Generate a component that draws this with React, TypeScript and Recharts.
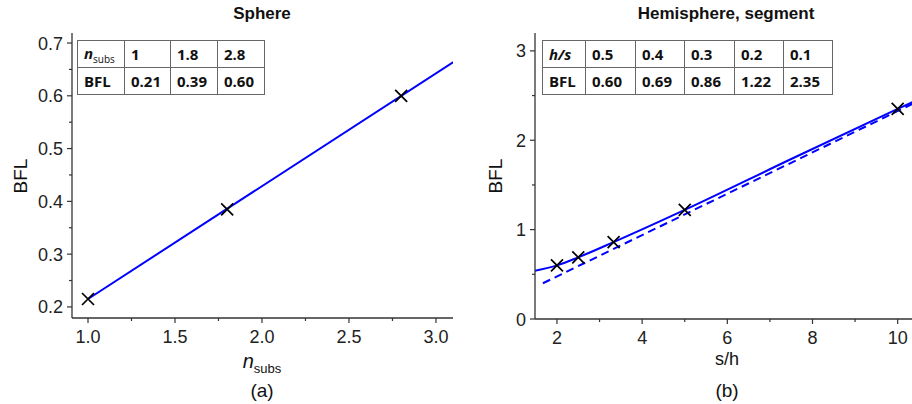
import { ComposedChart, Line, Scatter, XAxis, YAxis } from 'recharts';

// (a) sphere
const nSubs = [1, 1.8, 2.8];
const bflSphere = [0.215, 0.385, 0.6];
const sphereFitX = [1.0, 3.1];
const sphereFitY = [0.215, 0.664];
const sphereTableN = ['1', '1.8', '2.8'];
const sphereTableBfl = ['0.21', '0.39', '0.60'];

// (b) hemisphere, segment
const sOverH = [2, 2.5, 3.33, 5, 10];
const bflHemi = [0.6, 0.69, 0.86, 1.22, 2.35];
const solidX = [1.48, 2, 2.5, 3.33, 5, 7.5, 10, 10.36];
const solidY = [0.54, 0.6, 0.69, 0.86, 1.22, 1.79, 2.35, 2.43];
const dashX = [1.67, 10.36];
const dashY = [0.4, 2.41];
const hemiTableH = ['0.5', '0.4', '0.3', '0.2', '0.1'];
const hemiTableBfl = ['0.60', '0.69', '0.86', '1.22', '2.35'];

// ticks
const sphereXTicks = [1.0, 1.25, 1.5, 1.75, 2.0, 2.25, 2.5, 2.75, 3.0];
const sphereXMajor = [1.0, 1.5, 2.0, 2.5, 3.0];
const sphereYTicks = [0.2, 0.25, 0.3, 0.35, 0.4, 0.45, 0.5, 0.55, 0.6, 0.65, 0.7];
const sphereYMajor = [0.2, 0.3, 0.4, 0.5, 0.6, 0.7];
const hemiXTicks = [2, 3, 4, 5, 6, 7, 8, 9, 10];
const hemiXMajor = [2, 4, 6, 8, 10];
const hemiYTicks = [0, 0.5, 1, 1.5, 2, 2.5, 3];
const hemiYMajor = [0, 1, 2, 3];

const zip = (xs: number[], ys: number[]) => xs.map((x, i) => ({ x, y: ys[i] }));

const FONT = '"Liberation Sans", Arial, sans-serif';
const AXIS = '#333';
const BLUE = '#0000FF';

const isMajor = (majors: number[], v: number) => majors.some((m) => Math.abs(m - v) < 1e-6);

function BottomTick(props: any) {
  const { x, y, payload, majors, digits } = props;
  const major = isMajor(majors, payload.value);
  return (
    <g>
      <line x1={x} x2={x} y1={y} y2={y + (major ? 5 : 3)} stroke={AXIS} strokeWidth={1.2} />
      {major && (
        <text x={x} y={y + 25} textAnchor="middle" fontSize={18} fontFamily={FONT} fill="#222">
          {payload.value.toFixed(digits)}
        </text>
      )}
    </g>
  );
}

function LeftTick(props: any) {
  const { x, y, payload, majors, digits } = props;
  const major = isMajor(majors, payload.value);
  return (
    <g>
      <line x1={x} x2={x - (major ? 5 : 3)} y1={y} y2={y} stroke={AXIS} strokeWidth={1.2} />
      {major && (
        <text x={x - 9} y={y + 6.5} textAnchor="end" fontSize={18} fontFamily={FONT} fill="#222">
          {payload.value.toFixed(digits)}
        </text>
      )}
    </g>
  );
}

function Cross(props: any) {
  const { cx, cy } = props;
  const r = 6;
  return (
    <path
      d={`M${cx - r},${cy - r}L${cx + r},${cy + r}M${cx - r},${cy + r}L${cx + r},${cy - r}`}
      stroke="#000"
      strokeWidth={1.7}
      fill="none"
    />
  );
}

const cell: React.CSSProperties = {
  border: '1px solid #666',
  padding: '0 0 0 6px',
  height: 26,
  textAlign: 'left',
  fontFamily: '"Open Sans", sans-serif',
  fontWeight: 700,
  fontSize: 15,
  color: '#111',
};

function DataTable({ head, row1, row2, widths, left }: any) {
  return (
    <table
      style={{
        position: 'absolute',
        left,
        top: 40,
        borderCollapse: 'collapse',
        background: '#fff',
        tableLayout: 'fixed',
      }}
    >
      <tbody>
        <tr>
          <td style={{ ...cell, width: widths[0] - 7 }}>{head}</td>
          {row1.map((v: string, i: number) => (
            <td key={i} style={{ ...cell, width: widths[i + 1] - 7 }}>
              {v}
            </td>
          ))}
        </tr>
        <tr>
          <td style={cell}>BFL</td>
          {row2.map((v: string, i: number) => (
            <td key={i} style={cell}>
              {v}
            </td>
          ))}
        </tr>
      </tbody>
    </table>
  );
}

const label: React.CSSProperties = {
  position: 'absolute',
  fontFamily: FONT,
  color: '#111',
  whiteSpace: 'nowrap',
  lineHeight: 1,
  transform: 'translate(-50%, -50%)',
};

export default function App() {
  return (
    <div
      style={{
        position: 'absolute',
        left: 0,
        top: 0,
        width: 912,
        height: 404,
        overflow: 'hidden',
        background: '#fff',
      }}
    >
      <div style={{ position: 'absolute', left: 0, top: 0 }}>
        <ComposedChart width={460} height={404} margin={{ top: 33, right: 7, bottom: 0, left: 0 }}>
          <XAxis
            type="number"
            dataKey="x"
            domain={[0.908, 3.098]}
            allowDataOverflow
            ticks={sphereXTicks}
            interval={0}
            height={86}
            tickSize={0}
            tickMargin={0}
            tickLine={false}
            axisLine={{ stroke: AXIS, strokeWidth: 1.3 }}
            tick={(p: any) => <BottomTick {...p} majors={sphereXMajor} digits={1} />}
          />
          <XAxis xAxisId="top" orientation="top" type="number" domain={[0, 1]} height={0} tick={false} tickLine={false} axisLine={{ stroke: AXIS, strokeWidth: 1.3 }} />
          <YAxis
            type="number"
            dataKey="y"
            domain={[0.179, 0.719]}
            allowDataOverflow
            ticks={sphereYTicks}
            interval={0}
            width={72}
            tickSize={0}
            tickMargin={0}
            tickLine={false}
            axisLine={{ stroke: AXIS, strokeWidth: 1.3 }}
            tick={(p: any) => <LeftTick {...p} majors={sphereYMajor} digits={1} />}
          />
          <YAxis yAxisId="right" orientation="right" type="number" domain={[0, 1]} width={0} tick={false} tickLine={false} axisLine={{ stroke: AXIS, strokeWidth: 1.3 }} />
          <Line
            data={zip(sphereFitX, sphereFitY)}
            dataKey="y"
            type="linear"
            stroke={BLUE}
            strokeWidth={2}
            dot={false}
            activeDot={false}
            isAnimationActive={false}
          />
          <Scatter data={zip(nSubs, bflSphere)} dataKey="y" shape={Cross} isAnimationActive={false} />
        </ComposedChart>
      </div>

      <div style={{ position: 'absolute', left: 460, top: 0 }}>
        <ComposedChart width={460} height={404} margin={{ top: 33, right: 7, bottom: 0, left: 0 }}>
          <XAxis
            type="number"
            dataKey="x"
            domain={[1.484, 10.36]}
            allowDataOverflow
            ticks={hemiXTicks}
            interval={0}
            height={85}
            tickSize={0}
            tickMargin={0}
            tickLine={false}
            axisLine={{ stroke: AXIS, strokeWidth: 1.3 }}
            tick={(p: any) => <BottomTick {...p} majors={hemiXMajor} digits={0} />}
          />
          <XAxis xAxisId="top" orientation="top" type="number" domain={[0, 1]} height={0} tick={false} tickLine={false} axisLine={{ stroke: AXIS, strokeWidth: 1.3 }} />
          <YAxis
            type="number"
            dataKey="y"
            domain={[0, 3.2]}
            allowDataOverflow
            ticks={hemiYTicks}
            interval={0}
            width={75}
            tickSize={0}
            tickMargin={0}
            tickLine={false}
            axisLine={{ stroke: AXIS, strokeWidth: 1.3 }}
            tick={(p: any) => <LeftTick {...p} majors={hemiYMajor} digits={0} />}
          />
          <YAxis yAxisId="right" orientation="right" type="number" domain={[0, 1]} width={0} tick={false} tickLine={false} axisLine={{ stroke: AXIS, strokeWidth: 1.3 }} />
          <Line
            data={zip(solidX, solidY)}
            dataKey="y"
            type="monotone"
            stroke={BLUE}
            strokeWidth={2}
            dot={false}
            activeDot={false}
            isAnimationActive={false}
          />
          <Line
            data={zip(dashX, dashY)}
            dataKey="y"
            type="linear"
            stroke={BLUE}
            strokeWidth={2}
            strokeDasharray="8 5"
            dot={false}
            activeDot={false}
            isAnimationActive={false}
          />
          <Scatter data={zip(sOverH, bflHemi)} dataKey="y" shape={Cross} isAnimationActive={false} />
        </ComposedChart>
      </div>

      {/* titles */}
      <div style={{ ...label, left: 262, top: 13, fontSize: 17, fontWeight: 700 }}>Sphere</div>
      <div style={{ ...label, left: 726, top: 13, fontSize: 17, fontWeight: 700 }}>Hemisphere, segment</div>

      {/* axis labels */}
      <div style={{ ...label, left: 20, top: 176, fontSize: 19, transform: 'translate(-50%, -50%) rotate(-90deg)' }}>
        BFL
      </div>
      <div style={{ ...label, left: 495, top: 176, fontSize: 19, transform: 'translate(-50%, -50%) rotate(-90deg)' }}>
        BFL
      </div>
      <div style={{ ...label, left: 262, top: 363, fontSize: 20 }}>
        <i>n</i>
        <sub style={{ fontSize: 13 }}>subs</sub>
      </div>
      <div style={{ ...label, left: 727, top: 359, fontSize: 18 }}>s/h</div>
      <div style={{ ...label, left: 262, top: 390, fontSize: 19 }}>(a)</div>
      <div style={{ ...label, left: 727, top: 390, fontSize: 19 }}>(b)</div>

      {/* tables */}
      <DataTable
        left={77}
        widths={[47, 46, 47, 47]}
        head={
          <span>
            <i>n</i>
            <sub style={{ fontSize: 10, fontWeight: 400 }}>subs</sub>
          </span>
        }
        row1={sphereTableN}
        row2={sphereTableBfl}
      />
      <DataTable
        left={542}
        widths={[43, 50, 49, 50, 49, 49]}
        head={<i>h/s</i>}
        row1={hemiTableH}
        row2={hemiTableBfl}
      />
    </div>
  );
}
